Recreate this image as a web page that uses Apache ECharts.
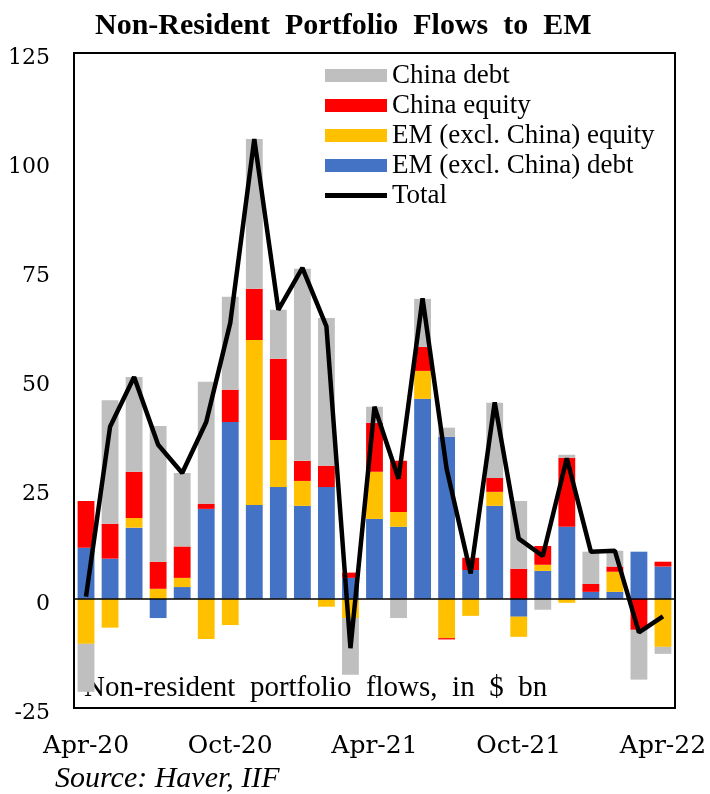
<!DOCTYPE html>
<html>
<head>
<meta charset="utf-8">
<script src="https://cdn.jsdelivr.net/npm/echarts@6/dist/echarts.min.js"></script>
<style>
  html, body { margin: 0; padding: 0; background: #fff; }
  #chart { width: 710px; height: 794px; }
</style>
</head>
<body>
<div id="chart"></div>
<script>
// Monthly non-resident portfolio flows to emerging markets, $ bn
const months = ['Apr-20','May-20','Jun-20','Jul-20','Aug-20','Sep-20','Oct-20','Nov-20','Dec-20',
  'Jan-21','Feb-21','Mar-21','Apr-21','May-21','Jun-21','Jul-21','Aug-21','Sep-21','Oct-21',
  'Nov-21','Dec-21','Jan-22','Feb-22','Mar-22','Apr-22'];

const emDebt = [11.7, 9.2, 16.3, -4.4, 2.7, 20.6, 40.5, 21.5, 25.6, 21.3, 25.6, 4.8, 18.3, 16.5,
  45.8, 37.1, 6.6, 21.3, -4.1, 6.4, 16.5, 1.6, 1.6, 10.8, 7.4];
const emEquity = [-10.3, -6.6, 2.2, 2.3, 2.1, -9.2, -6.0, 37.8, 10.8, 5.7, -1.8, -4.4, 10.8, 3.4,
  6.4, -9.0, -3.9, 3.2, -4.6, 1.4, -0.9, 0, 4.6, 0, -11.0];
const chinaEquity = [10.7, 8.0, 10.6, 6.2, 7.2, 1.2, 7.4, 11.7, 18.6, 4.6, 4.9, 1.2, 11.2, 11.7,
  5.5, -0.3, 2.8, 3.2, 6.9, 4.3, 15.8, 1.8, 1.2, -7.1, 1.1];
const chinaDebt = [-11.0, 28.3, 21.7, 31.1, 16.8, 27.9, 21.3, 34.3, 11.2, 44.0, 33.8, -13.0, 3.7, -4.4,
  11.0, 2.1, 0, 17.2, 15.5, -2.5, 0.7, 7.4, 3.6, -11.4, -1.6];
const total = [0.5, 39.4, 50.8, 35.3, 28.8, 40.5, 63.2, 105.3, 66.2, 75.8, 62.4, -11.3, 44.0, 27.5,
  68.8, 29.8, 5.8, 45.0, 13.8, 9.8, 32.2, 10.8, 11.0, -7.7, -4.0];

const yTicks = { min: -25, max: 125, step: 25 };

const SERIF = '"Liberation Serif", "Times New Roman", serif';
const TICK_FONT = '"DejaVu Serif", Georgia, serif';
const colors = { chinaDebt: '#BFBFBF', chinaEquity: '#FF0000', emEquity: '#FFC000', emDebt: '#4472C4' };

const chart = echarts.init(document.getElementById('chart'), null, { renderer: 'canvas' });

function barSeries(name, data, color) {
  return {
    name, type: 'bar', stack: 'flows', data,
    barCategoryGap: '30%',
    itemStyle: { color },
    emphasis: { disabled: true },
    animation: false
  };
}

chart.setOption({
  animation: false,
  title: {
    text: 'Non-Resident  Portfolio  Flows  to  EM',
    left: 90, top: 6,
    textStyle: { fontFamily: SERIF, fontWeight: 'bold', fontSize: 30, color: '#000' }
  },
  grid: {
    left: 74, right: 35, top: 53, bottom: 86,
    show: true, borderColor: '#000', borderWidth: 2, backgroundColor: 'transparent'
  },
  legend: {
    orient: 'vertical', left: 320, top: 57,
    itemWidth: 62, itemHeight: 13, itemGap: 3,
    data: [
      { name: 'China debt', icon: 'rect' },
      { name: 'China equity', icon: 'rect' },
      { name: 'EM (excl. China) equity', icon: 'rect' },
      { name: 'EM (excl. China) debt', icon: 'rect' },
      { name: 'Total', icon: 'path://M0,0H62V5H0Z' }
    ],
    textStyle: { fontFamily: SERIF, fontSize: 27, color: '#000', lineHeight: 26 }
  },
  xAxis: {
    type: 'category', data: months,
    axisLine: { show: false, onZero: false },
    axisTick: { show: false },
    axisLabel: { interval: 5, margin: 26, fontFamily: TICK_FONT, fontSize: 25, color: '#000' },
    splitLine: { show: false }
  },
  yAxis: {
    type: 'value', min: yTicks.min, max: yTicks.max, interval: yTicks.step,
    axisLine: { show: false }, axisTick: { show: false },
    splitLine: { show: false },
    axisLabel: {
      margin: 24, fontFamily: TICK_FONT, fontSize: 22, color: '#000',
      verticalAlign: 'top', lineHeight: 10
    }
  },
  series: [
    barSeries('EM (excl. China) debt', emDebt, colors.emDebt),
    barSeries('EM (excl. China) equity', emEquity, colors.emEquity),
    barSeries('China equity', chinaEquity, colors.chinaEquity),
    barSeries('China debt', chinaDebt, colors.chinaDebt),
    {
      name: 'Total', type: 'line', data: total,
      symbol: 'none', z: 5,
      lineStyle: { color: '#000', width: 4.5 },
      itemStyle: { color: '#000' },
      emphasis: { disabled: true },
      markLine: {
        silent: true, symbol: 'none', animation: false,
        label: { show: false },
        lineStyle: { color: '#000', width: 1.5, type: 'solid' },
        data: [{ yAxis: 0 }]
      }
    }
  ],
  graphic: [
    {
      type: 'text', left: 84, top: 674,
      style: { text: 'Non-resident  portfolio  flows,  in  $  bn', font: '29px ' + SERIF, fill: '#000' }
    },
    {
      type: 'text', left: 55, top: 764,
      style: { text: 'Source: Haver, IIF', font: 'italic 30px ' + SERIF, fill: '#000' }
    }
  ]
});
</script>
</body>
</html>
